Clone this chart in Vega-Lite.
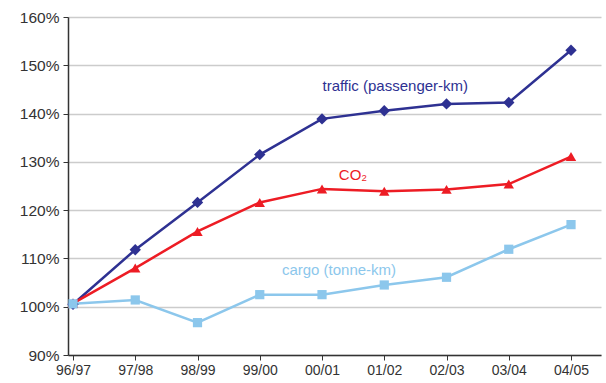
{
  "$schema": "https://vega.github.io/schema/vega-lite/v6.json",
  "width": 533,
  "height": 338,
  "autosize": "none",
  "padding": {"left": 68, "top": 17, "right": 5, "bottom": 28},
  "background": "white",
  "config": {
    "view": {"stroke": null},
    "font": "Liberation Sans",
    "axis": {"labelFont": "Liberation Sans", "labelColor": "#333333", "domainColor": "#333333", "tickColor": "#333333"}
  },
  "datasets": {
    "series": [
      {"year": "96/97", "series": "traffic", "value": 1.005},
      {"year": "97/98", "series": "traffic", "value": 1.118},
      {"year": "98/99", "series": "traffic", "value": 1.216},
      {"year": "99/00", "series": "traffic", "value": 1.315},
      {"year": "00/01", "series": "traffic", "value": 1.389},
      {"year": "01/02", "series": "traffic", "value": 1.406},
      {"year": "02/03", "series": "traffic", "value": 1.420},
      {"year": "03/04", "series": "traffic", "value": 1.423},
      {"year": "04/05", "series": "traffic", "value": 1.531},
      {"year": "96/97", "series": "CO2", "value": 1.007},
      {"year": "97/98", "series": "CO2", "value": 1.080},
      {"year": "98/99", "series": "CO2", "value": 1.156},
      {"year": "99/00", "series": "CO2", "value": 1.216},
      {"year": "00/01", "series": "CO2", "value": 1.244},
      {"year": "01/02", "series": "CO2", "value": 1.239},
      {"year": "02/03", "series": "CO2", "value": 1.243},
      {"year": "03/04", "series": "CO2", "value": 1.254},
      {"year": "04/05", "series": "CO2", "value": 1.311},
      {"year": "96/97", "series": "cargo", "value": 1.006},
      {"year": "97/98", "series": "cargo", "value": 1.014},
      {"year": "98/99", "series": "cargo", "value": 0.967},
      {"year": "99/00", "series": "cargo", "value": 1.025},
      {"year": "00/01", "series": "cargo", "value": 1.025},
      {"year": "01/02", "series": "cargo", "value": 1.045},
      {"year": "02/03", "series": "cargo", "value": 1.061},
      {"year": "03/04", "series": "cargo", "value": 1.119},
      {"year": "04/05", "series": "cargo", "value": 1.170}
    ],
    "labels": [
      {"year": "01/02", "series": "traffic", "value": 1.457, "text": "traffic (passenger-km)"},
      {"year": "00/01", "series": "CO2", "value": 1.273, "text": "CO₂"},
      {"year": "00/01", "series": "cargo", "value": 1.076, "text": "cargo (tonne-km)"}
    ]
  },
  "layer": [
    {
      "data": {"name": "series"},
      "mark": {"type": "line", "strokeWidth": 2.5},
      "encoding": {
        "x": {
          "field": "year", "type": "ordinal", "sort": null,
          "scale": {"type": "point", "padding": 0.281, "align": 0.143},
          "axis": {"title": null, "labelAngle": 0, "labelFontSize": 14, "tickSize": 5, "domainWidth": 1.5, "labelPadding": 3, "grid": false}
        },
        "y": {
          "field": "value", "type": "quantitative",
          "scale": {"domain": [0.9, 1.6], "nice": false, "zero": false},
          "axis": {"title": null, "format": ".0%", "values": [0.9, 1.0, 1.1, 1.2, 1.3, 1.4, 1.5, 1.6], "labelFontSize": 15.5, "tickSize": 5, "domainWidth": 1.5, "gridColor": "#cccccc", "gridWidth": 1.5, "labelPadding": 4}
        },
        "color": {
          "field": "series", "type": "nominal", "legend": null,
          "scale": {"domain": ["traffic", "CO2", "cargo"], "range": ["#2e3192", "#ed1c24", "#8cc7ec"]}
        },
        "detail": {"field": "series"}
      }
    },
    {
      "data": {"name": "series"},
      "mark": {"type": "point", "filled": true, "opacity": 1},
      "encoding": {
        "x": {"field": "year", "type": "ordinal", "sort": null},
        "y": {"field": "value", "type": "quantitative"},
        "color": {"field": "series", "type": "nominal", "legend": null},
        "shape": {
          "field": "series", "type": "nominal", "legend": null,
          "scale": {"domain": ["traffic", "CO2", "cargo"], "range": ["diamond", "triangle-up", "square"]}
        },
        "size": {
          "field": "series", "type": "nominal", "legend": null,
          "scale": {"domain": ["traffic", "CO2", "cargo"], "range": [130, 85, 95]}
        }
      }
    },
    {
      "data": {"name": "labels"},
      "transform": [{"filter": "datum.series == 'traffic'"}],
      "mark": {"type": "text", "fontSize": 15, "align": "center", "baseline": "middle", "dx": 11},
      "encoding": {
        "x": {"field": "year", "type": "ordinal", "sort": null},
        "y": {"field": "value", "type": "quantitative"},
        "text": {"field": "text"},
        "color": {"field": "series", "type": "nominal", "legend": null}
      }
    },
    {
      "data": {"name": "labels"},
      "transform": [{"filter": "datum.series == 'CO2'"}],
      "mark": {"type": "text", "fontSize": 15, "align": "center", "baseline": "middle", "dx": 31},
      "encoding": {
        "x": {"field": "year", "type": "ordinal", "sort": null},
        "y": {"field": "value", "type": "quantitative"},
        "text": {"field": "text"},
        "color": {"field": "series", "type": "nominal", "legend": null}
      }
    },
    {
      "data": {"name": "labels"},
      "transform": [{"filter": "datum.series == 'cargo'"}],
      "mark": {"type": "text", "fontSize": 15, "align": "center", "baseline": "middle", "dx": 17},
      "encoding": {
        "x": {"field": "year", "type": "ordinal", "sort": null},
        "y": {"field": "value", "type": "quantitative"},
        "text": {"field": "text"},
        "color": {"field": "series", "type": "nominal", "legend": null}
      }
    }
  ]
}
